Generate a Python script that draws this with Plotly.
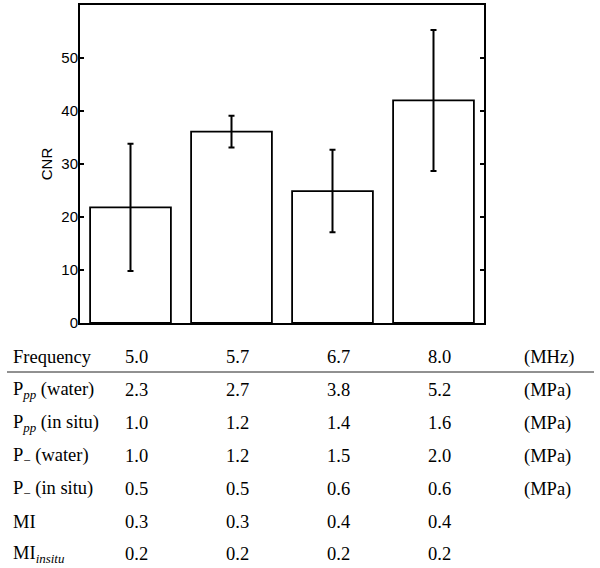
import plotly.graph_objects as go

# ---- data ----
frequencies = ["5.0", "5.7", "6.7", "8.0"]
cnr_mean = [21.8, 36.1, 24.9, 42.0]
cnr_err = [12.0, 3.0, 7.8, 13.3]

row_labels = [
    "Frequency",
    "P<sub><i>pp</i></sub> (water)",
    "P<sub><i>pp</i></sub> (in situ)",
    "P<sub>−</sub> (water)",
    "P<sub>−</sub> (in situ)",
    "MI",
    "MI<sub><i>insitu</i></sub>",
]
ppp_water = ["2.3", "2.7", "3.8", "5.2"]
ppp_insitu = ["1.0", "1.2", "1.4", "1.6"]
pneg_water = ["1.0", "1.2", "1.5", "2.0"]
pneg_insitu = ["0.5", "0.5", "0.6", "0.6"]
mi = ["0.3", "0.3", "0.4", "0.4"]
mi_insitu = ["0.2", "0.2", "0.2", "0.2"]
row_values = [frequencies, ppp_water, ppp_insitu, pneg_water, pneg_insitu, mi, mi_insitu]
row_units = ["(MHz)", "(MPa)", "(MPa)", "(MPa)", "(MPa)", "", ""]
y_ticks = [0, 10, 20, 30, 40, 50]

# ---- layout geometry ----
W, H = 600, 568
ML, MR, MT, MB = 80, 116, 5, 245
plot_w = W - ML - MR
plot_h = H - MT - MB
row_px = [357, 390, 423, 456, 489, 522, 554]   # row centres (pixels from top)
label_px = 11
unit_px = 522
line_px = 372


def py(p):
    return (MT + plot_h - p) / plot_h


def px(p):
    return (p - ML) / plot_w


fig = go.Figure()
fig.add_trace(go.Bar(
    x=frequencies,
    y=cnr_mean,
    width=0.8,
    marker=dict(color="white", line=dict(color="black", width=1.8)),
    error_y=dict(type="data", array=cnr_err, visible=True,
                 color="black", thickness=2, width=3),
    showlegend=False,
))

serif = dict(family="Liberation Serif, Times New Roman, serif", size=18.5, color="black")
ann = []
for r, (lab, vals, unit) in enumerate(zip(row_labels, row_values, row_units)):
    ann.append(dict(x=px(label_px), y=py(row_px[r]), xref="paper", yref="paper",
                    text=lab, showarrow=False, xanchor="left", yanchor="middle",
                    font=serif))
    for c, v in enumerate(vals):
        ann.append(dict(x=c, y=py(row_px[r]), xref="x", yref="paper",
                        text=v, showarrow=False, xanchor="left", yanchor="middle",
                        xshift=-8, font=serif))
    if unit:
        ann.append(dict(x=px(unit_px), y=py(row_px[r]), xref="paper", yref="paper",
                        text=unit, showarrow=False, xanchor="left", yanchor="middle",
                        font=serif))

fig.update_layout(
    width=W, height=H,
    margin=dict(l=ML, r=MR, t=MT, b=MB, pad=0, autoexpand=False),
    paper_bgcolor="white", plot_bgcolor="white",
    annotations=ann,
    shapes=[dict(type="line", xref="paper", yref="paper",
                 x0=px(7), x1=px(594), y0=py(line_px), y1=py(line_px),
                 line=dict(color="#222222", width=1))],
    font=dict(family="Liberation Sans, Arial, sans-serif", size=15, color="black"),
)
fig.update_xaxes(type="category", range=[-0.5, 3.5], showticklabels=False, ticks="",
                 showline=True, linecolor="black", linewidth=2, mirror=True,
                 showgrid=False, zeroline=False, automargin=False)
fig.update_yaxes(range=[0, 60], tickvals=y_ticks, ticks="inside", ticklen=4,
                 tickwidth=1.5, tickcolor="black",
                 showline=True, linecolor="black", linewidth=2, mirror="ticks",
                 showgrid=False, zeroline=False, automargin=False,
                 ticklabelstandoff=-3,
                 title=dict(text="CNR", standoff=5, font=dict(size=15)),
                 tickfont=dict(size=15))

fig.write_html("out.html",
               config={"displayModeBar": False},
               post_script="document.body.style.margin='0';document.body.style.overflow='hidden';")
